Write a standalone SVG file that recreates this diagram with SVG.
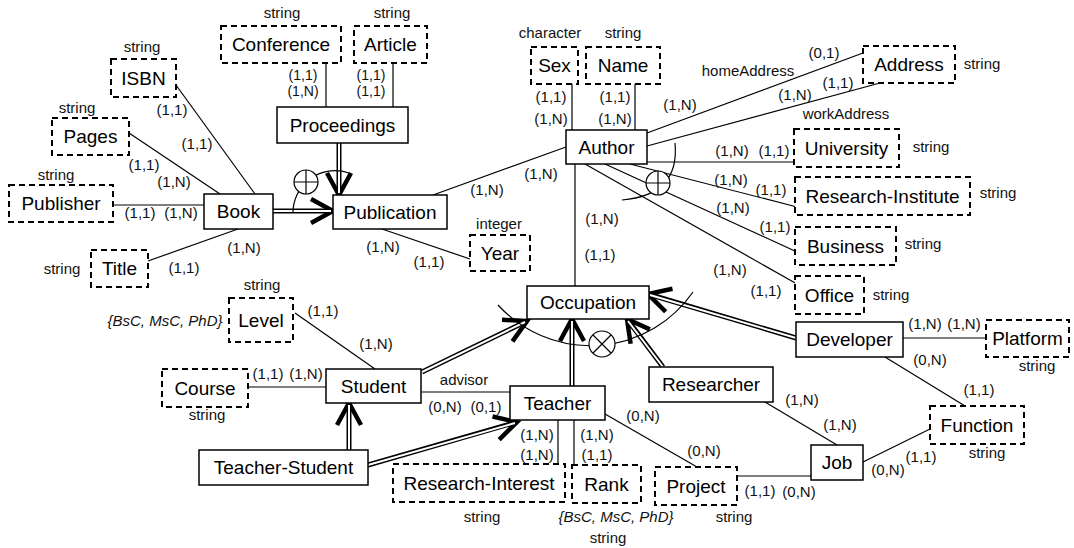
<svg xmlns="http://www.w3.org/2000/svg" width="1074" height="548" viewBox="0 0 1074 548">
  <style>
    .ent { fill: #fff; stroke: #000; stroke-width: 1.5; }
    .att { fill: #fff; stroke: #000; stroke-width: 2; stroke-dasharray: 6 4; }
    .lbl { font-family: "Liberation Sans", Arial, sans-serif; font-size: 19px; text-anchor: middle; fill: #000; }
    .sm { font-family: "Liberation Sans", Arial, sans-serif; font-size: 15px; text-anchor: middle; fill: #111; }
    .tight { font-size: 14px; }
    .it { font-style: italic; }
    .ln { stroke: #000; stroke-width: 1.2; fill: none; }
    .dbo { stroke: #000; stroke-width: 5; fill: none; }
    .dbi { stroke: #fff; stroke-width: 2; fill: none; }
    .arc { stroke: #000; stroke-width: 1.2; fill: none; }
    .circ { stroke: #000; stroke-width: 1.2; fill: #fff; }
  </style>
  <defs>
    <marker id="isa" markerUnits="userSpaceOnUse" markerWidth="40" markerHeight="40" refX="0" refY="0" viewBox="-30 -20 40 40" orient="auto" overflow="visible">
      <path d="M-22,-12 L0,0 L-22,12" fill="none" stroke="#000" stroke-width="4.5"/>
    </marker>
  </defs>

  <!-- plain connectors -->
  <g id="connectors">
    <line class="ln" x1="176" y1="85" x2="255" y2="194"/>
    <line class="ln" x1="129" y1="133" x2="220" y2="194"/>
    <line class="ln" x1="113" y1="205" x2="204" y2="205"/>
    <line class="ln" x1="148" y1="261" x2="238" y2="229"/>
    <line class="ln" x1="326" y1="63" x2="326" y2="107"/>
    <line class="ln" x1="393" y1="63" x2="393" y2="107"/>
    <line class="ln" x1="572" y1="84" x2="572" y2="130"/>
    <line class="ln" x1="635" y1="84" x2="635" y2="130"/>
    <line class="ln" x1="566" y1="147" x2="433" y2="195"/>
    <line class="ln" x1="647" y1="133" x2="863" y2="53"/>
    <line class="ln" x1="647" y1="146" x2="880" y2="83"/>
    <line class="ln" x1="647" y1="162" x2="794" y2="162"/>
    <line class="ln" x1="630" y1="164" x2="797" y2="207"/>
    <line class="ln" x1="605" y1="164" x2="797" y2="252"/>
    <line class="ln" x1="585" y1="164" x2="797" y2="284"/>
    <line class="ln" x1="575" y1="164" x2="575" y2="286"/>
    <line class="ln" x1="382" y1="229" x2="470" y2="259"/>
    <line class="ln" x1="295" y1="313" x2="375" y2="369"/>
    <line class="ln" x1="248" y1="387" x2="326" y2="387"/>
    <line class="ln" x1="421" y1="392" x2="510" y2="392"/>
    <line class="ln" x1="558" y1="420" x2="558" y2="464"/>
    <line class="ln" x1="574" y1="420" x2="574" y2="465"/>
    <line class="ln" x1="605" y1="414" x2="697" y2="467"/>
    <line class="ln" x1="737" y1="476" x2="811" y2="476"/>
    <line class="ln" x1="765" y1="402" x2="837" y2="445"/>
    <line class="ln" x1="863" y1="462" x2="930" y2="429"/>
    <line class="ln" x1="885" y1="357" x2="965" y2="406"/>
    <line class="ln" x1="903" y1="338" x2="986" y2="338"/>

    <!-- generalisation links: double lines with open heads -->
    <g id="isa-links">
      <path class="dbo" d="M273,211 L333,211" marker-end="url(#isa)"/>
      <path class="dbi" d="M273,211 L331,211"/>
      <path class="dbo" d="M339,143 L339,195" marker-end="url(#isa)"/>
      <path class="dbi" d="M339,143 L339,193"/>
      <path class="dbo" d="M422,372 L527,321" marker-end="url(#isa)"/>
      <path class="dbi" d="M422,372 L525,322"/>
      <path class="dbo" d="M349,450 L349,403" marker-end="url(#isa)"/>
      <path class="dbi" d="M349,450 L349,405"/>
      <path class="dbo" d="M368,465 L517,422" marker-end="url(#isa)"/>
      <path class="dbi" d="M368,465 L515,423"/>
      <path class="dbo" d="M572,386 L572,319" marker-end="url(#isa)"/>
      <path class="dbi" d="M572,386 L572,321"/>
      <path class="dbo" d="M663,367 L627,319" marker-end="url(#isa)"/>
      <path class="dbi" d="M663,367 L628,321"/>
      <path class="dbo" d="M796,338 L648,294" marker-end="url(#isa)"/>
      <path class="dbi" d="M796,338 L650,295"/>
    </g>

    <!-- disjointness / covering arcs -->
    <path class="arc" d="M293,213 A42,42 0 0 1 349,173"/>
    <circle class="circ" cx="306" cy="182" r="12"/>
    <path class="arc" d="M294,182 H318 M306,170 V194"/>

    <path class="arc" d="M675,143 Q680,195 622,200"/>
    <circle class="circ" cx="658" cy="183" r="12"/>
    <path class="arc" d="M646,183 H670 M658,171 V195"/>

    <path class="arc" d="M498,305 A125,125 0 0 0 693,292"/>
    <circle class="circ" cx="602" cy="344" r="13"/>
    <path class="arc" d="M593,335 L611,353 M611,335 L593,353"/>
  </g>

  <!-- cardinalities and role names -->
  <g id="labels" class="sm">
    <text class="tight" x="303" y="80">(1,1)</text><text class="tight" x="303" y="96">(1,N)</text>
    <text class="tight" x="371" y="80">(1,1)</text><text class="tight" x="371" y="96">(1,1)</text>
    <text x="172" y="115">(1,1)</text><text x="197" y="149">(1,1)</text>
    <text x="144" y="170">(1,1)</text><text x="174" y="187">(1,N)</text>
    <text x="140" y="218">(1,1)</text><text x="181" y="218">(1,N)</text>
    <text x="244" y="253">(1,N)</text><text x="184" y="273">(1,1)</text>
    <text x="551" y="102">(1,1)</text><text x="551" y="124">(1,N)</text>
    <text x="615" y="102">(1,1)</text><text x="615" y="124">(1,N)</text>
    <text x="680" y="110">(1,N)</text>
    <text x="824" y="58">(0,1)</text><text x="748" y="76">homeAddress</text>
    <text x="838" y="88">(1,1)</text><text x="795" y="100">(1,N)</text><text x="846" y="119">workAddress</text>
    <text x="732" y="156">(1,N)</text><text x="774" y="156">(1,1)</text>
    <text x="731" y="185">(1,N)</text><text x="771" y="195">(1,1)</text>
    <text x="733" y="213">(1,N)</text><text x="775" y="232">(1,1)</text>
    <text x="730" y="275">(1,N)</text><text x="766" y="296">(1,1)</text>
    <text x="602" y="224">(1,N)</text><text x="600" y="260">(1,1)</text>
    <text x="541" y="179">(1,N)</text><text x="487" y="195">(1,N)</text>
    <text x="383" y="252">(1,N)</text><text x="429" y="267">(1,1)</text>
    <text x="323" y="316">(1,1)</text><text x="376" y="349">(1,N)</text>
    <text x="268" y="379">(1,1)</text><text x="306" y="379">(1,N)</text>
    <text x="464" y="385">advisor</text>
    <text x="445" y="412">(0,N)</text><text x="486" y="412">(0,1)</text>
    <text x="537" y="440">(1,N)</text><text x="537" y="460">(1,N)</text>
    <text x="597" y="440">(1,N)</text><text x="597" y="460">(1,1)</text>
    <text x="643" y="421">(0,N)</text><text x="704" y="456">(0,N)</text>
    <text x="760" y="496">(1,1)</text><text x="799" y="497">(0,N)</text>
    <text x="802" y="405">(1,N)</text><text x="840" y="430">(1,N)</text>
    <text x="888" y="475">(0,N)</text><text x="921" y="462">(1,1)</text>
    <text x="930" y="365">(0,N)</text><text x="979" y="395">(1,1)</text>
    <text x="925" y="329">(1,N)</text><text x="964" y="329">(1,N)</text>
  </g>

  <!-- entities -->
  <g id="book"><rect class="ent" x="204" y="194" width="69" height="35"/><text class="lbl" x="238.5" y="218">Book</text></g>
  <g id="proceedings"><rect class="ent" x="277" y="107" width="131" height="36"/><text class="lbl" x="342.5" y="132">Proceedings</text></g>
  <g id="publication"><rect class="ent" x="333" y="195" width="114" height="34"/><text class="lbl" x="390" y="219">Publication</text></g>
  <g id="author"><rect class="ent" x="566" y="130" width="81" height="34"/><text class="lbl" x="606.5" y="154">Author</text></g>
  <g id="occupation"><rect class="ent" x="527" y="286" width="122" height="33"/><text class="lbl" x="588" y="309">Occupation</text></g>
  <g id="student"><rect class="ent" x="326" y="369" width="95" height="34"/><text class="lbl" x="373.5" y="393">Student</text></g>
  <g id="teacher"><rect class="ent" x="510" y="386" width="95" height="34"/><text class="lbl" x="557.5" y="410">Teacher</text></g>
  <g id="teacher-student"><rect class="ent" x="199" y="450" width="169" height="35"/><text class="lbl" x="283.5" y="474">Teacher-Student</text></g>
  <g id="researcher"><rect class="ent" x="649" y="367" width="124" height="35"/><text class="lbl" x="711" y="391">Researcher</text></g>
  <g id="developer"><rect class="ent" x="796" y="322" width="107" height="35"/><text class="lbl" x="849.5" y="346">Developer</text></g>
  <g id="job"><rect class="ent" x="811" y="445" width="52" height="35"/><text class="lbl" x="837" y="469">Job</text></g>

  <!-- attributes -->
  <g id="isbn"><rect class="att" x="111" y="59" width="65" height="38"/><text class="lbl" x="143.5" y="85">ISBN</text><text class="sm" x="142" y="52">string</text></g>
  <g id="pages"><rect class="att" x="52" y="118" width="77" height="37"/><text class="lbl" x="90.5" y="143">Pages</text><text class="sm" x="77" y="113">string</text></g>
  <g id="publisher"><rect class="att" x="9" y="185" width="104" height="37"/><text class="lbl" x="61" y="210">Publisher</text><text class="sm" x="56" y="180">string</text></g>
  <g id="title"><rect class="att" x="91" y="250" width="57" height="37"/><text class="lbl" x="119.5" y="275">Title</text><text class="sm" x="62" y="274">string</text></g>
  <g id="conference"><rect class="att" x="221" y="26" width="120" height="37"/><text class="lbl" x="281" y="51">Conference</text><text class="sm" x="282" y="18">string</text></g>
  <g id="article"><rect class="att" x="354" y="26" width="73" height="37"/><text class="lbl" x="390.5" y="51">Article</text><text class="sm" x="392" y="18">string</text></g>
  <g id="sex"><rect class="att" x="531" y="47" width="47" height="37"/><text class="lbl" x="554.5" y="72">Sex</text><text class="sm" x="550" y="38">character</text></g>
  <g id="name"><rect class="att" x="586" y="47" width="74" height="37"/><text class="lbl" x="623" y="72">Name</text><text class="sm" x="623" y="38">string</text></g>
  <g id="address"><rect class="att" x="863" y="46" width="92" height="37"/><text class="lbl" x="909" y="71">Address</text><text class="sm" x="982" y="69">string</text></g>
  <g id="university"><rect class="att" x="794" y="129" width="105" height="38"/><text class="lbl" x="846.5" y="155">University</text><text class="sm" x="931" y="152">string</text></g>
  <g id="research-institute"><rect class="att" x="795" y="177" width="175" height="38"/><text class="lbl" x="882.5" y="203">Research-Institute</text><text class="sm" x="998" y="198">string</text></g>
  <g id="business"><rect class="att" x="795" y="227" width="101" height="38"/><text class="lbl" x="845.5" y="253">Business</text><text class="sm" x="923" y="249">string</text></g>
  <g id="office"><rect class="att" x="795" y="276" width="69" height="38"/><text class="lbl" x="829.5" y="302">Office</text><text class="sm" x="891" y="300">string</text></g>
  <g id="year"><rect class="att" x="470" y="235" width="60" height="36"/><text class="lbl" x="500" y="260">Year</text><text class="sm" x="499" y="229">integer</text></g>
  <g id="level"><rect class="att" x="229" y="298" width="64" height="44"/><text class="lbl" x="261" y="327">Level</text><text class="sm" x="262" y="290">string</text><text class="sm it" x="165" y="326">{BsC, MsC, PhD}</text></g>
  <g id="course"><rect class="att" x="162" y="369" width="86" height="38"/><text class="lbl" x="205" y="395">Course</text><text class="sm" x="207" y="420">string</text></g>
  <g id="platform"><rect class="att" x="986" y="320" width="83" height="37"/><text class="lbl" x="1027.5" y="345">Platform</text><text class="sm" x="1037" y="371">string</text></g>
  <g id="function"><rect class="att" x="930" y="406" width="94" height="38"/><text class="lbl" x="977" y="432">Function</text><text class="sm" x="987" y="458">string</text></g>
  <g id="project"><rect class="att" x="655" y="467" width="82" height="38"/><text class="lbl" x="696" y="493">Project</text><text class="sm" x="734" y="522">string</text></g>
  <g id="research-interest"><rect class="att" x="393" y="464" width="172" height="38"/><text class="lbl" x="479" y="490">Research-Interest</text><text class="sm" x="482" y="522">string</text></g>
  <g id="rank"><rect class="att" x="572" y="465" width="69" height="38"/><text class="lbl" x="606.5" y="491">Rank</text><text class="sm it" x="616" y="522">{BsC, MsC, PhD}</text><text class="sm" x="608" y="543">string</text></g>
</svg>
